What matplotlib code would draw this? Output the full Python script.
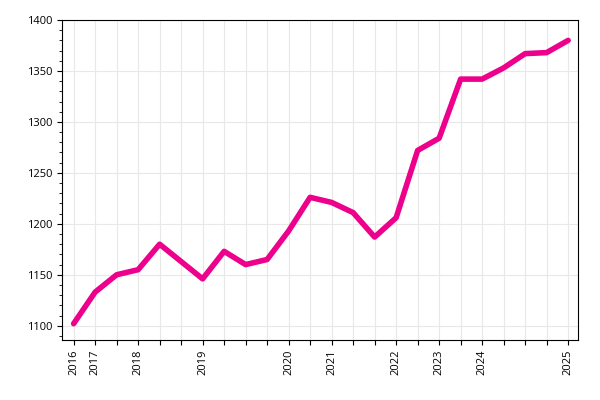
import numpy as np
import matplotlib.pyplot as plt
from matplotlib.ticker import MultipleLocator

plt.rcParams['font.family'] = ['Open Sans', 'DejaVu Sans']

values = [1102, 1133, 1150, 1155, 1180, 1163, 1146, 1173, 1160, 1165, 1193, 1226,
          1221, 1211, 1187, 1206, 1272, 1284, 1342, 1342, 1353, 1367, 1368, 1380]
label_idx = [0, 1, 3, 6, 10, 12, 15, 17, 19, 23]
label_txt = ['2016', '2017', '2018', '2019', '2020', '2021', '2022', '2023', '2024', '2025']

x = np.arange(len(values))
fig = plt.figure(figsize=(6, 4), dpi=100)
ax = fig.add_axes([0.103, 0.15, 0.86, 0.80])
ax.plot(x, values, color='#ec008c', lw=4, solid_capstyle='round', solid_joinstyle='round', zorder=3)
ax.set_xlim(-0.55, 23.45)
ax.set_ylim(1086, 1400)
ax.set_xticks(x)
labels = [''] * len(values)
for i, t in zip(label_idx, label_txt):
    labels[i] = t
ax.set_xticklabels(labels, rotation=90, fontsize=8)
ax.yaxis.set_major_locator(MultipleLocator(50))
ax.yaxis.set_minor_locator(MultipleLocator(10))
ax.tick_params(axis='y', labelsize=8)
ax.grid(True, color='#e8e8e8', lw=0.8)
ax.set_axisbelow(True)
fig.savefig('out.png')
